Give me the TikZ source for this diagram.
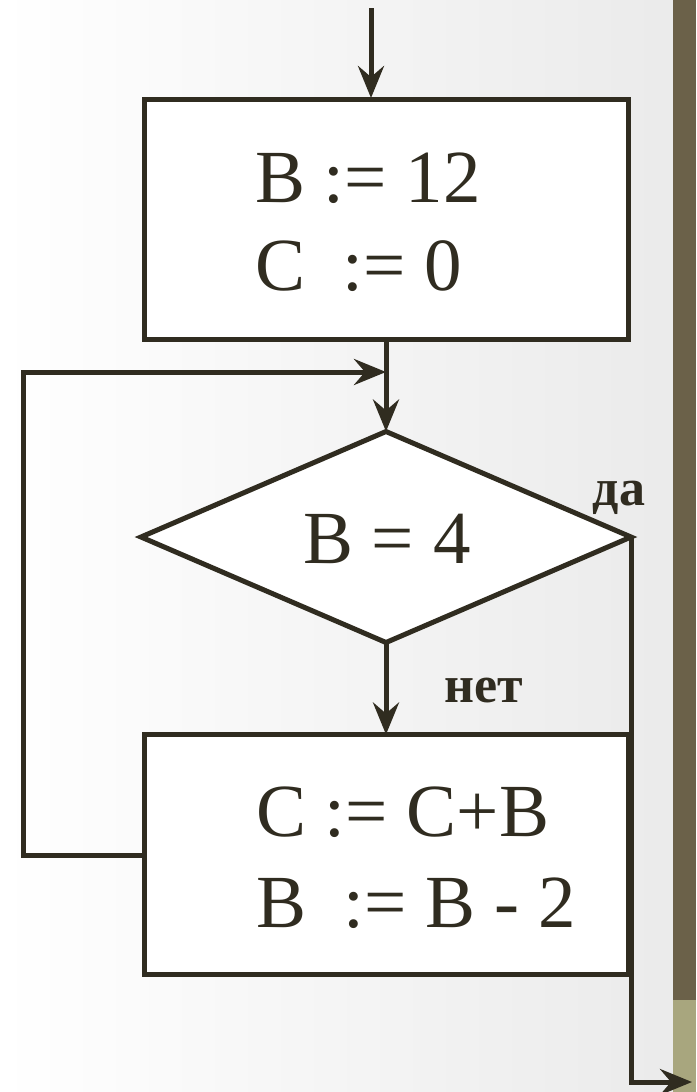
\documentclass[tikz,border=0pt]{standalone}
\usepackage{fontspec}
\setmainfont{Liberation Serif}
\usetikzlibrary{arrows.meta,shapes.geometric}
\definecolor{ink}{RGB}{48,44,32}
\definecolor{bardark}{RGB}{107,97,73}
\definecolor{barlight}{RGB}{168,166,126}
\begin{document}
\begin{tikzpicture}[x=1pt,y=-1pt,
  conn/.style={draw=ink,line width=5pt},
  arr/.style={conn,-{Stealth[length=32pt,width=26pt,inset=11pt]}},
  procbox/.style={draw=ink,line width=5pt,fill=white,rectangle,inner sep=0pt,outer sep=0pt,minimum width=484pt,minimum height=240pt},
  decis/.style={draw=ink,line width=5pt,fill=white,diamond,inner sep=0pt,outer sep=0pt,minimum width=490pt,minimum height=211pt,aspect=2.32},
  big/.style={text=ink,font=\fontsize{75}{75}\selectfont,inner sep=0pt,anchor=base west},
  lbl/.style={text=ink,font=\bfseries\fontsize{52}{52}\selectfont,inner sep=0pt,anchor=base}]
\useasboundingbox (0,0) rectangle (696,1092);
\shade[left color=white,right color=black!8] (0,0) rectangle (673,1092);
\fill[bardark] (673,0) rectangle (696,1000);
\fill[barlight] (673,1000) rectangle (696,1092);
% nodes
\node[procbox] (box1) at (386,219.5) {};
\node[decis] (cond) at (386,537) {};
\node[procbox] (box2) at (386,854.5) {};
\coordinate (start) at (371,8);
\coordinate (top1) at (371,98);
\coordinate (j) at (386,372);
\coordinate (lt) at (23,372);
\coordinate (lb) at (23,855);
\coordinate (l2) at (143,855);
\coordinate (exit) at (692,1082);
% texts
\node[big] (t1) at (255,202) {B := 12};
\node[big] (t2) at (255,290) {C\ \ := 0};
\node[big] (t3) at (303,563) {B = 4};
\node[big] (t4) at (256,836) {C := C+B};
\node[big] (t5) at (256,927) {B\ \ := B - 2};
\node[lbl] (yes) at (619,505) {да};
\node[lbl] (no) at (484,702) {нет};
% connectors
\draw[arr] (start) -- (top1);
\draw[conn] (box1.south) -- (j);
\draw[arr] (j) -- (cond.north);
\draw[arr] (cond.south) -- (box2.north);
\draw[arr] (l2) -- (lb) -- (lt) -- (j);
\draw[arr] (cond.east) -- (cond.east |- exit) -- (exit);
\end{tikzpicture}
\end{document}
